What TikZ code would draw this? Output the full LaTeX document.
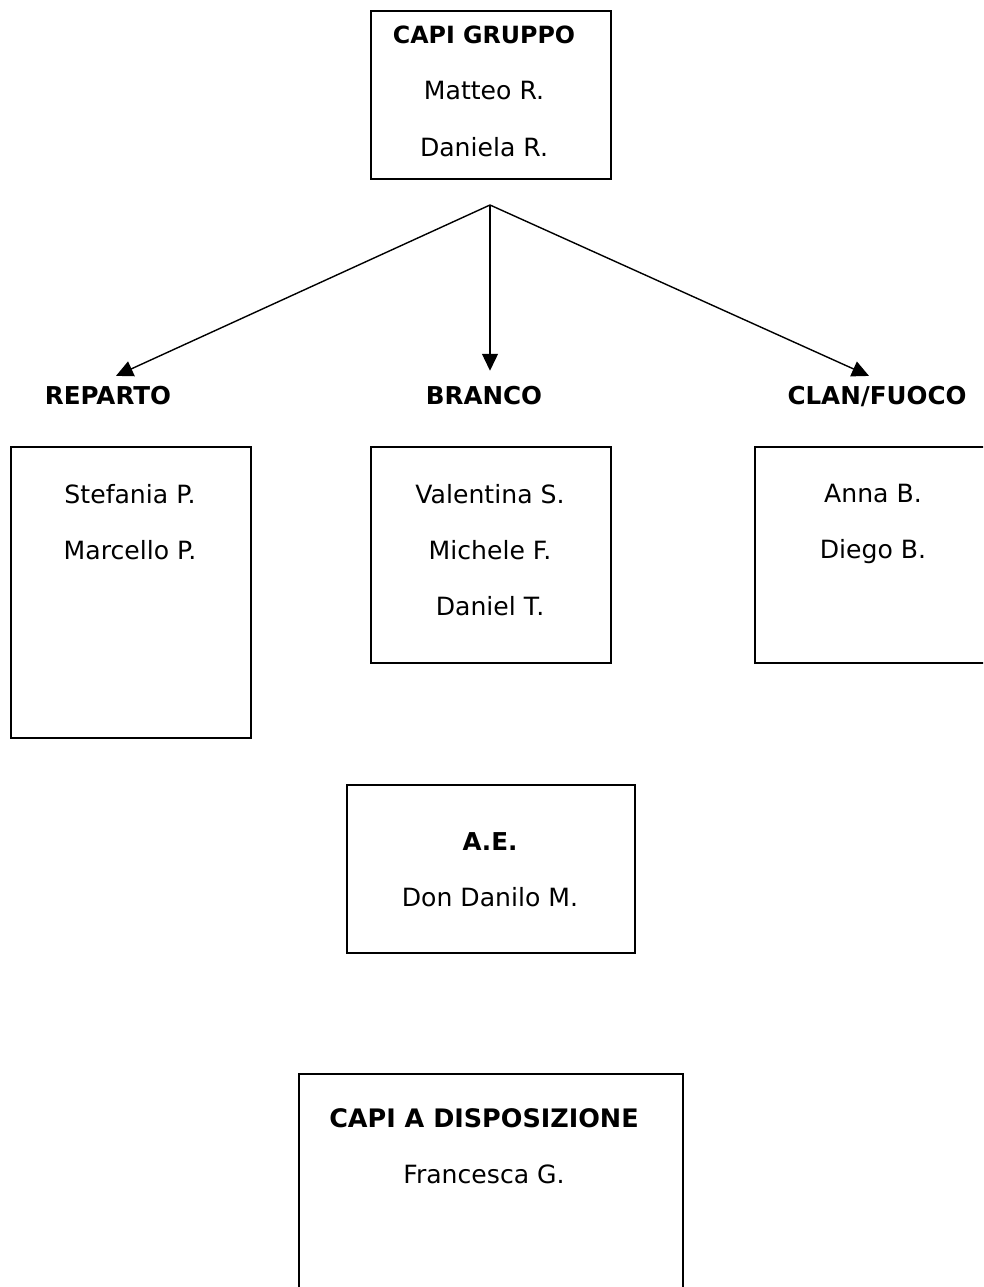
\documentclass[tikz,border=0pt]{standalone}
\usepackage{fontspec}
\setmainfont{DejaVu Sans}
\usetikzlibrary{arrows.meta, positioning}
\tikzset{
    %Define standard arrow tip
    >={Triangle[length=0.34cm, width=0.32cm]},
    %Define style for boxes
    casella/.style={
           rectangle,
           draw=black, line width=1.1pt,
           anchor=north west,
           inner sep=0pt},
    %Define style for the names in the boxes
    nomi/.style={
           anchor=north,
           align=center,
           inner sep=0pt,
           font=\fontsize{14.3}{31.9}\selectfont},
    %Define style for the titles
    titolo/.style={
           font=\fontsize{14}{31.9}\selectfont\bfseries},
    % Define arrow style
    freccia/.style={
           ->,
           line width=0.8pt,
           shorten >=5pt,}
}

\begin{document}
\begin{tikzpicture}[x=0.02cm, y=-0.02cm]
	\useasboundingbox (0,0) rectangle (983,1287);
	\clip (0,0) rectangle (983,1287);
	%
	% caselle
	%
	\node[casella, minimum width=240*0.02cm, minimum height=168*0.02cm] (gruppo) at (370,10) {};
	\node[casella, minimum width=240*0.02cm, minimum height=291*0.02cm] (reparto) at (10,446) {};
	\node[casella, minimum width=240*0.02cm, minimum height=216*0.02cm] (branco) at (370,446) {};
	\node[casella, minimum width=240*0.02cm, minimum height=216*0.02cm] (clan) at (754,446) {};
	\node[casella, minimum width=288*0.02cm, minimum height=168*0.02cm] (ae) at (346,784) {};
	\node[casella, minimum width=384*0.02cm, minimum height=260*0.02cm] (disp) at (298,1073) {};
	%
	% nomi
	%
	\node[nomi] (nomigruppo) at (484,26) {{\bfseries\fontsize{13.5}{31.9}\selectfont CAPI GRUPPO}\\Matteo R.\\Daniela R.};
	\node[nomi] (nomireparto) at (130,484) {Stefania P.\\Marcello P.};
	\node[nomi] (nomibranco) at (490,484) {Valentina S.\\Michele F.\\Daniel T.};
	\node[nomi] (nomiclan) at (873,484) {Anna B.\\Diego B.};
	\node[nomi] (nomiae) at (490,832) {{\bfseries\fontsize{14}{31.9}\selectfont A.E.}\\Don Danilo M.};
	\node[nomi] (nomidisp) at (484,1108) {{\bfseries\fontsize{14.5}{31.9}\selectfont CAPI A DISPOSIZIONE}\\Francesca G.};
	%
	% titoli
	%
	\node[titolo, anchor=base] (treparto) at (108,404) {REPARTO};
	\node[titolo, anchor=base] (tbranco) at (484,404) {BRANCO};
	\node[titolo, anchor=base] (tclan) at (877,404) {CLAN/FUOCO};
	%
	% Liens
	%
	\coordinate (split) at (490,205);
	\draw[freccia] (split) to (treparto.north);
	\draw[freccia] (split) to (tbranco.north -| split);
	\draw[freccia] (split) to (tclan.north);
\end{tikzpicture}
\end{document}
